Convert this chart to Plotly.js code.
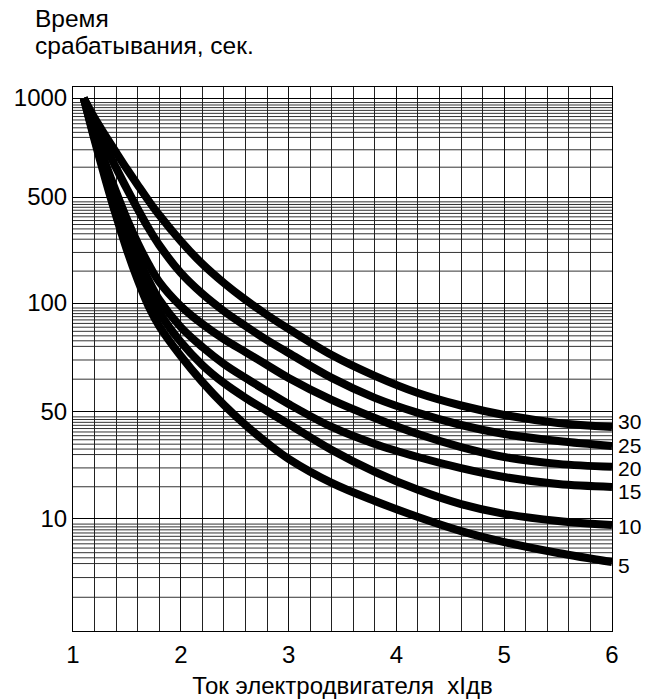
<!DOCTYPE html>
<html>
<head>
<meta charset="utf-8">
<script src="https://cdn.plot.ly/plotly-3.0.1.min.js"></script>
<style>
html,body{margin:0;padding:0;background:#fff;}
#chart{width:650px;height:699px;}
</style>
</head>
<body>
<div id="chart"></div>
<script>
// ---- data (x = motor current, multiples of Iдв; y = trip time, s) ----
const currentX = [1.1, 1.2, 1.3, 1.4, 1.5, 1.6, 1.7, 1.8, 2.0, 2.2, 2.4, 2.6, 2.8, 3.0, 3.4, 3.8, 4.2, 4.6, 5.0, 5.5, 6.0];
const curveNames = ['30', '25', '20', '15', '10', '5'];
const time30 = [1000, 869, 769, 683, 608, 544, 474, 380, 256, 181, 135.5, 105, 92.7, 84.8, 71.8, 62.9, 56.4, 52.1, 47.8, 42.4, 39.9];
const time25 = [1000, 839, 714, 613, 529, 417, 312, 241, 158, 115, 95, 86.4, 79, 72.8, 62.1, 54.7, 49.3, 41.1, 35.9, 32.3, 30.0];
const time20 = [1000, 788, 634, 518, 358, 249, 181, 138, 98.1, 87.5, 79.5, 73.2, 67.4, 62.1, 54.0, 45.7, 35.9, 29.5, 25.4, 22.9, 21.9];
const time15 = [1000, 772, 608, 471, 298, 201, 142, 105, 85.8, 75.6, 67.9, 62.1, 57.1, 52.6, 39.9, 30.9, 25.4, 21.5, 18.8, 16.9, 16.2];
const time10 = [1000, 756, 583, 417, 260, 173, 120, 94.4, 78, 67.4, 60.1, 54.7, 50.3, 41.7, 28.2, 20.3, 15.5, 12.5, 10.8, 9.88, 9.64];
const time5  = [1000, 745, 567, 375, 224, 142, 98.1, 86.4, 71.4, 60.5, 52.3, 41.1, 31.4, 24.7, 17.2, 13.1, 10.3, 9.28, 8.67, 8.10, 7.66];
const curveTimes = [time30, time25, time20, time15, time10, time5];
const yTickValues = [10, 50, 100, 500, 1000];
const xTickValues = [1, 2, 3, 4, 5, 6];

// ---- non-uniform time scale of the original (piecewise logarithmic) ----
const scaleVals = [5, 10, 50, 100, 500, 1000];
const scalePos  = [0, 1.047, 2.047, 3.065, 4.056, 4.981];
const scaleTop = 5.084;
function toPos(v) {
  let i = 0;
  while (i < scaleVals.length - 2 && v > scaleVals[i + 1]) i++;
  const a = scaleVals[i], b = scaleVals[i + 1];
  return scalePos[i] + (scalePos[i + 1] - scalePos[i]) * Math.log(v / a) / Math.log(b / a);
}

const traces = curveTimes.map((ys, k) => ({
  x: currentX,
  y: ys.map(toPos),
  type: 'scatter',
  mode: 'lines',
  line: {color: '#000', width: 8, shape: 'spline', smoothing: 1},
  name: curveNames[k],
  hoverinfo: 'x+name'
}));

// log-paper style minor grid inside every segment
const shapes = [];
const decadeSteps = [9, 8.5, 8, 7.5, 7, 6.5, 6, 5.5, 5, 4.5, 4, 3, 2];
for (let s = 1; s < scalePos.length; s++) {
  const top = scalePos[s], bot = scalePos[s - 1];
  decadeSteps.forEach(k => {
    const p = top - (1 - Math.log10(k)) * (top - bot);
    shapes.push({type: 'line', xref: 'paper', yref: 'y', x0: 0, x1: 1, y0: p, y1: p,
      line: {color: '#333', width: 1}, layer: 'below'});
  });
}

const fam = 'Arial, "Liberation Sans", sans-serif';
const tickFont = {family: fam, size: 24, color: '#000'};
const labelFont = {family: fam, size: 21, color: '#000'};
const titleFont = {family: fam, size: 24.5, color: '#000'};
const annotations = curveNames.map((n, k) => ({
  x: 6, y: toPos(curveTimes[k][curveTimes[k].length - 1]),
  xref: 'x', yref: 'y', text: n, showarrow: false,
  xanchor: 'left', yanchor: 'middle', xshift: 5, borderpad: 0,
  yshift: [5, 0, -2, -5, -2, -3][k],
  font: labelFont
}));
annotations.push({
  xref: 'paper', yref: 'paper', x: -0.074, y: 1.1268, xanchor: 'left', yanchor: 'middle',
  showarrow: false, text: 'Время', font: titleFont
});
annotations.push({
  xref: 'paper', yref: 'paper', x: -0.074, y: 1.0754, xanchor: 'left', yanchor: 'middle',
  showarrow: false, text: 'срабатывания, сек.', font: titleFont
});

const layout = {
  width: 650, height: 699,
  margin: {l: 73, r: 38, t: 87, b: 68},
  paper_bgcolor: '#fff', plot_bgcolor: '#fff',
  showlegend: false,
  font: tickFont,
  xaxis: {
    range: [1, 6], tickvals: xTickValues, ticktext: xTickValues.map(String),
    tickfont: tickFont,
    showgrid: true, gridcolor: '#111', gridwidth: 1,
    minor: {dtick: 0.2, tick0: 1, showgrid: true, gridcolor: '#222', gridwidth: 1},
    showline: true, linecolor: '#000', linewidth: 1, mirror: true,
    zeroline: false, ticks: '', ticklabelstandoff: 2,
    title: {text: 'Ток электродвигателя  xIдв', font: {family: fam, size: 24, color: '#000'}, standoff: 10}
  },
  yaxis: {
    range: [0, scaleTop], tickvals: yTickValues.map(toPos), ticktext: yTickValues.map(String),
    tickfont: tickFont,
    showgrid: true, gridcolor: '#000', gridwidth: 1,
    showline: true, linecolor: '#000', linewidth: 1, mirror: true,
    zeroline: false, ticks: '', ticklabelstandoff: 0
  },
  shapes: shapes,
  annotations: annotations
};

Plotly.newPlot('chart', traces, layout, {displayModeBar: false, staticPlot: true});
</script>
</body>
</html>
